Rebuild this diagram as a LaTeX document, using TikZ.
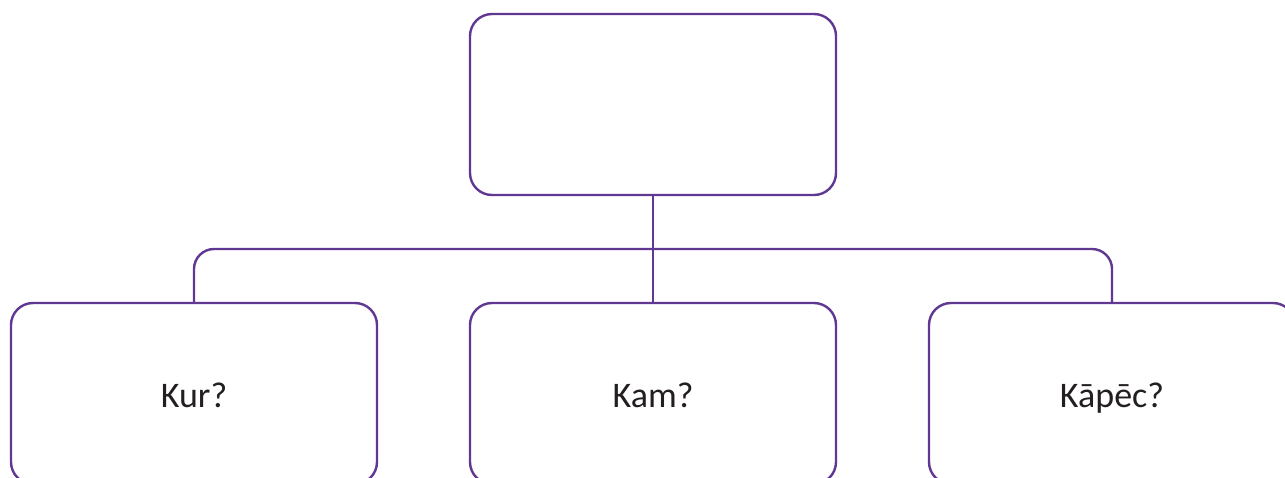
\documentclass[tikz,border=0pt]{standalone}
\usepackage{fontspec}
\setmainfont{Carlito}
\usepackage{xcolor}
\usetikzlibrary{positioning}
\definecolor{lila}{RGB}{96,56,146}
\definecolor{teksts}{RGB}{35,31,32}

\begin{document}
\begin{tikzpicture}[x=1pt,y=-1pt,
    kaste/.style={draw=lila, line width=2.4pt, rounded corners=22pt,
        minimum width=366pt, minimum height=181pt, inner sep=0pt,
        text height=29pt, text depth=2pt,
        text=teksts, font=\fontsize{36}{42}\selectfont},
    saite/.style={draw=lila, line width=2.4pt, rounded corners=20pt}]
    \useasboundingbox (0,0) rectangle (1285,477);
    \clip (0,0) rectangle (1285,477);
    \node[kaste] (galva) at (653,104.5) {};
    \node[kaste] (kur) at (194,393.5) {Kur?};
    \node[kaste] (kam) at (653,393.5) {Kam?};
    \node[kaste] (kapec) at (1112,393.5) {Kāpēc?};
    \coordinate (josla) at (0,249);
    \draw[saite] (kur.north) |- (kapec.north |- josla) -- (kapec.north);
    \draw[saite] (galva.south) -- (kam.north);
\end{tikzpicture}
\end{document}
